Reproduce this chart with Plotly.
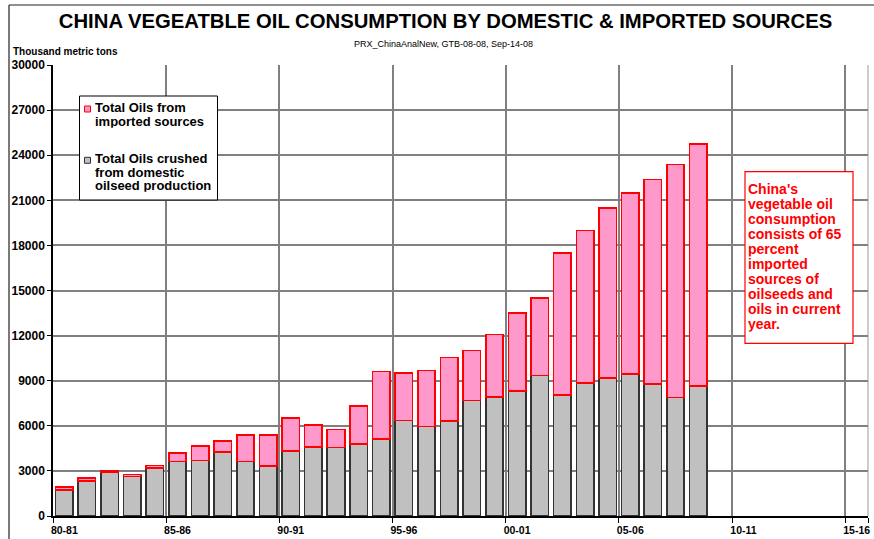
import plotly.graph_objects as go

# ---- data (thousand metric tons) ----
all_seasons = ["80-81", "81-82", "82-83", "83-84", "84-85", "85-86", "86-87", "87-88", "88-89", "89-90",
               "90-91", "91-92", "92-93", "93-94", "94-95", "95-96", "96-97", "97-98", "98-99", "99-00",
               "00-01", "01-02", "02-03", "03-04", "04-05", "05-06", "06-07", "07-08", "08-09", "09-10",
               "10-11", "11-12", "12-13", "13-14", "14-15", "15-16"]
data_seasons = ["80-81", "81-82", "82-83", "83-84", "84-85", "85-86", "86-87", "87-88", "88-89", "89-90",
                "90-91", "91-92", "92-93", "93-94", "94-95", "95-96", "96-97", "97-98", "98-99", "99-00",
                "00-01", "01-02", "02-03", "03-04", "04-05", "05-06", "06-07", "07-08", "08-09"]
domestic = [1710, 2330, 2910, 2640, 3180, 3620, 3690, 4240, 3620, 3320,
            4340, 4600, 4570, 4800, 5110, 6340, 5960, 6330, 7680, 7900,
            8320, 9340, 8050, 8850, 9180, 9450, 8780, 7880, 8650]
imported = [220, 200, 90, 110, 170, 560, 950, 760, 1780, 2080,
            2180, 1470, 1180, 2510, 4490, 3160, 3730, 4220, 3340, 4180,
            5170, 5170, 9460, 10140, 11310, 12020, 13610, 15490, 16110]
tick_labels = ["80-81", "85-86", "90-91", "95-96", "00-01", "05-06", "10-11", "15-16"]
y_ticks = [0, 3000, 6000, 9000, 12000, 15000, 18000, 21000, 24000, 27000, 30000]

title_text = "CHINA VEGEATBLE OIL CONSUMPTION BY DOMESTIC & IMPORTED SOURCES"
subtitle_text = "PRX_ChinaAnalNew, GTB-08-08, Sep-14-08"
unit_text = "Thousand metric tons"
legend_imported = ["Total Oils from", "imported sources"]
legend_domestic = ["Total Oils crushed", "from domestic", "oilseed production"]
note_lines = ["China's", "vegetable oil", "consumption", "consists of 65", "percent",
              "imported", "sources of", "oilseeds and", "oils in current", "year."]

# ---- layout geometry (pixels) ----
W, H = 874, 539
PL, PR, PT, PB = 53, 868, 65, 516
FONT = "Liberation Sans, Arial, Helvetica, sans-serif"
RED = "#FF0000"


def px(x):
    return (x - PL) / (PR - PL)


def py(y):
    return (PB - y) / (PB - PT)


fig = go.Figure()
fig.add_trace(go.Bar(
    x=data_seasons, y=domestic, name="Total Oils crushed from domestic oilseed production",
    marker=dict(color="#C0C0C0", line=dict(color="#333333", width=1.6)),
))
fig.add_trace(go.Bar(
    x=data_seasons, y=imported, name="Total Oils from imported sources",
    marker=dict(color="#FF99CC", line=dict(color=RED, width=1.6)),
))

shapes = []
annotations = []

# chart-area border (left and top edges visible)
shapes.append(dict(type="line", xref="paper", yref="paper", x0=px(9), x1=px(9), y0=py(5), y1=py(H + 5),
                   line=dict(color="#222222", width=1.2), layer="above"))
shapes.append(dict(type="line", xref="paper", yref="paper", x0=px(9), x1=px(W + 5), y0=py(5), y1=py(5),
                   line=dict(color="#222222", width=1.2), layer="above"))
# plot-area right edge
shapes.append(dict(type="line", xref="paper", yref="paper", x0=1, x1=1, y0=0, y1=1,
                   line=dict(color="#BBBBBB", width=1.5), layer="below"))

# legend box
shapes.append(dict(type="rect", xref="paper", yref="paper", x0=px(79.5), x1=px(217.5), y0=py(96), y1=py(200),
                   line=dict(color="#000000", width=1), fillcolor="white", layer="above"))
shapes.append(dict(type="rect", xref="paper", yref="paper", x0=px(84.5), x1=px(90.5), y0=py(106), y1=py(112),
                   line=dict(color=RED, width=1), fillcolor="#FF99CC", layer="above"))
shapes.append(dict(type="rect", xref="paper", yref="paper", x0=px(84.5), x1=px(90.5), y0=py(157.3), y1=py(163.3),
                   line=dict(color="#333333", width=1), fillcolor="#C0C0C0", layer="above"))


def add_line_text(text, x_left, baseline, size, color, pitch):
    annotations.append(dict(
        text=text, xref="paper", yref="paper", x=px(x_left), y=py(baseline - 0.3465 * size),
        xanchor="left", yanchor="middle", showarrow=False, height=pitch - 0.5,
        font=dict(family=FONT, size=size, color=color),
        borderpad=0,
    ))


for i, t in enumerate(legend_imported):
    add_line_text("<b>%s</b>" % t, 93.5, 112.3 + 13.3 * i, 13, "#000000", 13.3)
for i, t in enumerate(legend_domestic):
    add_line_text("<b>%s</b>" % t, 93.5, 163.3 + 13.3 * i, 13, "#000000", 13.3)

# note box
shapes.append(dict(type="rect", xref="paper", yref="paper", x0=px(745), x1=px(853), y0=py(171.7), y1=py(343.3),
                   line=dict(color=RED, width=1.2), fillcolor="white", layer="above"))
for i, t in enumerate(note_lines):
    add_line_text("<b>%s</b>" % t, 746.5, 194.3 + 14.9 * i, 14, RED, 14.9)

# unit label and subtitle
annotations.append(dict(text="<b>%s</b>" % unit_text, xref="paper", yref="paper",
                        x=px(11), y=py(55 - 0.3465 * 10), xanchor="left", yanchor="middle", showarrow=False,
                        font=dict(family=FONT, size=10, color="#000000")))
annotations.append(dict(text=subtitle_text, xref="paper", yref="paper",
                        x=px(443), y=py(47 - 0.3465 * 9), xanchor="center", yanchor="middle", showarrow=False,
                        font=dict(family=FONT, size=9, color="#000000")))

fig.update_layout(
    width=W, height=H,
    margin=dict(l=PL, r=W - PR, t=PT, b=H - PB, pad=0, autoexpand=False),
    paper_bgcolor="white", plot_bgcolor="white",
    barmode="stack", bargap=0.23,
    showlegend=False,
    title=dict(text="<b>%s</b>" % title_text, x=px(445.5), xref="paper", xanchor="center",
               y=1 - 20.8 / H, yref="container", yanchor="middle",
               font=dict(family=FONT, size=20.3, color="#000000")),
    shapes=shapes, annotations=annotations,
    xaxis=dict(
        type="category", categoryorder="array", categoryarray=all_seasons,
        range=[-0.5, len(all_seasons) - 0.5],
        tickmode="array", tickvals=tick_labels, ticktext=["<b>%s</b>" % t for t in tick_labels],
        tickson="boundaries", tickangle=0, automargin=False, ticklabelstandoff=4,
        showgrid=True, gridcolor="#808080", gridwidth=2,
        showline=True, linecolor="#000000", linewidth=1.5,
        ticks="outside", ticklen=5, tickcolor="#000000", tickwidth=1,
        tickfont=dict(family=FONT, size=10.5, color="#000000"),
        fixedrange=True,
    ),
    yaxis=dict(
        range=[0, 30000], tickmode="array", tickvals=y_ticks,
        ticktext=["<b>%d</b>" % v for v in y_ticks],
        automargin=False,
        showgrid=True, gridcolor="#808080", gridwidth=2,
        zeroline=False,
        showline=True, linecolor="#000000", linewidth=1.5,
        ticks="outside", ticklen=4, tickcolor="#000000", tickwidth=1,
        tickfont=dict(family=FONT, size=12, color="#000000"),
        fixedrange=True,
    ),
)

fig.write_html("out.html", config={"displayModeBar": False},
               post_script="document.body.style.margin='0';document.body.style.overflow='hidden';")
